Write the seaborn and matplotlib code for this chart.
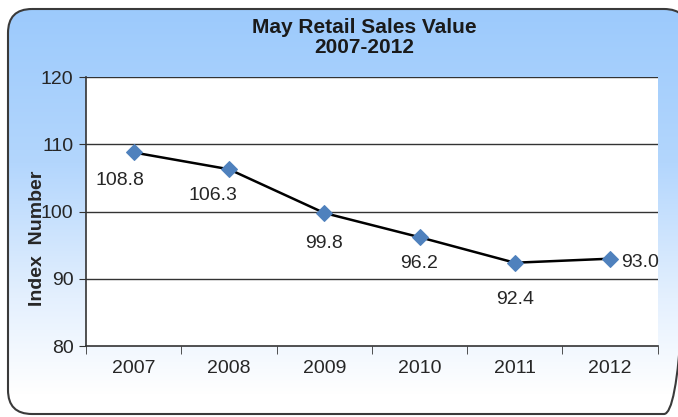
import matplotlib
matplotlib.use("Agg")
import matplotlib.pyplot as plt
import numpy as np
import pandas as pd
import seaborn as sns
from matplotlib.patches import FancyBboxPatch
from matplotlib.colors import LinearSegmentedColormap

years = ["2007", "2008", "2009", "2010", "2011", "2012"]
index_values = [108.8, 106.3, 99.8, 96.2, 92.4, 93.0]
y_ticks = [80, 90, 100, 110, 120]

df = pd.DataFrame({"year": years, "value": index_values})

sns.set_style("white")
plt.rcParams["font.family"] = ["Liberation Sans", "DejaVu Sans"]

fig = plt.figure(figsize=(6.78, 4.17), dpi=100)

# background: rounded box with a blue-to-white gradient
bg = fig.add_axes([0, 0, 1, 1], zorder=0)
bg.axis("off")
grad_cmap = LinearSegmentedColormap.from_list(
    "bgfade", [(0, "#9ccafc"), (0.4, "#b3d6fd"), (0.75, "#e4f0fe"), (1, "#ffffff")])
grad = np.linspace(0, 1, 256).reshape(-1, 1)
white_fill = FancyBboxPatch((8, 9), 680, 405, boxstyle="round,pad=0,rounding_size=24",
                            facecolor="white", edgecolor="none", zorder=0)
bg.add_patch(white_fill)
img = bg.imshow(grad, cmap=grad_cmap, extent=[7, 690, 395, 8], aspect="auto", zorder=1)
box = FancyBboxPatch((8, 9), 680, 405, boxstyle="round,pad=0,rounding_size=24",
                     facecolor="none", edgecolor="#3a3a3a", linewidth=1.5, zorder=2)
bg.add_patch(box)
img.set_clip_path(box)
bg.set_xlim(0, 678)
bg.set_ylim(417, 0)

ax = fig.add_axes([0.127, 0.170, 0.843, 0.645], zorder=1)
ax.set_facecolor("white")
sns.lineplot(data=df, x="year", y="value", ax=ax, color="black", linewidth=1.8,
             marker="D", markersize=8.5, markerfacecolor="#4f81bd",
             markeredgecolor="#4f81bd", sort=False)

ax.set_ylim(80, 120)
ax.set_xlim(-0.5, len(years) - 0.5)
ax.set_yticks(y_ticks)
ax.set_yticklabels([str(t) for t in y_ticks], fontsize=14, color="#262626")
ax.set_xticks(range(len(years)))
ax.set_xticklabels(years, fontsize=14, color="#262626")
ax.tick_params(axis="x", length=0, pad=10)
ax.tick_params(axis="y", length=5, color="#333333", left=True, pad=4)
# boundary ticks between categories
ax.set_xticks(np.arange(-0.5, len(years)), minor=True)
ax.tick_params(axis="x", which="minor", length=6, color="#333333", bottom=True)

for t in y_ticks[1:]:
    ax.axhline(t, color="#333333", linewidth=1.0, zorder=0)
for side in ["top", "right"]:
    ax.spines[side].set_visible(False)
for side in ["left", "bottom"]:
    ax.spines[side].set_color("#333333")
    ax.spines[side].set_linewidth(1.2)

ax.set_xlabel("")
ax.set_ylabel("Index  Number", fontsize=14, fontweight="bold", labelpad=2)
ax.yaxis.set_label_coords(-0.07, 0.40)

# label offsets in pixels (Excel placed these "below", last one "right")
label_offsets = [(-14, -20), (-16, -18), (0, -22), (0, -18), (0, -28)]
for i, v in enumerate(index_values):
    if i == len(years) - 1:
        ax.annotate(f"{v:.1f}", (i, v), xytext=(8, -3), textcoords="offset points",
                    ha="left", va="center", fontsize=14, color="#262626")
    else:
        dx, dy = label_offsets[i]
        ax.annotate(f"{v:.1f}", (i, v), xytext=(dx * 0.72, dy * 0.72),
                    textcoords="offset points",
                    ha="center", va="top", fontsize=14, color="#262626")

fig.text(0.537, 0.958, "May Retail Sales Value\n2007-2012", ha="center", va="top",
         fontsize=15, fontweight="bold", linespacing=1.1, color="#1a1a1a")

fig.savefig("out.png", dpi=100)
